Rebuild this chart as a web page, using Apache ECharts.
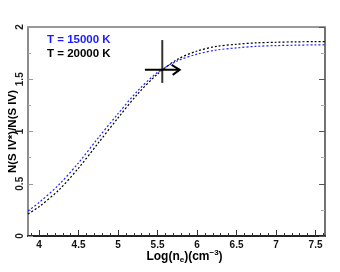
<!DOCTYPE html>
<html>
<head>
<meta charset="utf-8">
<script src="https://cdn.jsdelivr.net/npm/echarts@6/dist/echarts.min.js"></script>
<style>html,body{margin:0;padding:0;background:#fff;}#c{width:340px;height:272px;}</style>
</head>
<body>
<div id="c"></div>
<script>
var logNe = [3.86, 4.0, 4.25, 4.5, 4.75, 5.0, 5.25, 5.5, 5.75, 6.0, 6.25, 6.5, 6.75, 7.0, 7.25, 7.5, 7.62];
var ratioT15000 = [0.24, 0.32, 0.49, 0.70, 0.94, 1.17, 1.39, 1.565, 1.675, 1.74, 1.78, 1.80, 1.815, 1.822, 1.826, 1.829, 1.83];
var ratioT20000 = [0.21, 0.28, 0.44, 0.65, 0.89, 1.13, 1.36, 1.55, 1.69, 1.77, 1.815, 1.835, 1.848, 1.854, 1.858, 1.86, 1.861];
var seriesNames = ['T = 15000 K', 'T = 20000 K'];
// measurement: [x, y, yLow, yHigh, xLow, xHigh(lower-limit arrow tip)]
var measurement = [[5.56, 1.59, 1.465, 1.875, 5.34, 5.78]];
var xMajorTicks = [4, 4.5, 5, 5.5, 6, 6.5, 7, 7.5];
var xMinorTicks = [3.9, 4.0, 4.1, 4.2, 4.3, 4.4, 4.5, 4.6, 4.7, 4.8, 4.9, 5.0, 5.1, 5.2, 5.3, 5.4, 5.5, 5.6, 5.7, 5.8, 5.9, 6.0, 6.1, 6.2, 6.3, 6.4, 6.5, 6.6, 6.7, 6.8, 6.9, 7.0, 7.1, 7.2, 7.3, 7.4, 7.5, 7.6];
var xMin = 3.86, xMax = 7.62;

function pairs(xs, ys) { return xs.map(function (x, i) { return [x, ys[i]]; }); }

var FONT = 'Liberation Sans';
var chart = echarts.init(document.getElementById('c'), null, {renderer: 'canvas'});
chart.setOption({
  animation: false,
  backgroundColor: '#fff',
  grid: {left: 28, right: 15, top: 27, bottom: 36, outerBoundsMode: 'none', containLabel: false},
  legend: {
    orient: 'vertical', left: 37, top: 28, itemGap: 1, icon: 'none', itemWidth: 0, itemHeight: 14,
    selectedMode: false,
    textStyle: {fontFamily: FONT, fontWeight: 'bold', fontSize: 11.5},
    data: [
      {name: seriesNames[0], textStyle: {color: '#1a1aff'}},
      {name: seriesNames[1], textStyle: {color: '#000'}}
    ]
  },
  xAxis: [
    {
      type: 'value', min: xMin, max: xMax, position: 'bottom',
      name: '{n|Log(n}{sub|e}{n|)(cm}{sup|\u22123}{n|)}', nameLocation: 'middle', nameGap: 13, nameMoveOverlap: false,
      nameTextStyle: {
        fontFamily: FONT, fontWeight: 'bold', fontSize: 12, color: '#000', padding: [0, 0, 0, 16],
        rich: {
          n: {fontFamily: FONT, fontWeight: 'bold', fontSize: 12, color: '#000'},
          sub: {fontFamily: FONT, fontWeight: 'bold', fontSize: 8, color: '#000', padding: [6, 0, 0, 0]},
          sup: {fontFamily: FONT, fontWeight: 'bold', fontSize: 8, color: '#000', padding: [0, 0, 7, 0]}
        }
      },
      axisLine: {show: true, lineStyle: {color: '#222', width: 2}},
      axisTick: {show: true, inside: true, length: 6, customValues: xMajorTicks, lineStyle: {color: '#333', width: 1}},
      axisLabel: {show: true, customValues: xMajorTicks, margin: 4, fontFamily: FONT, fontWeight: 'bold', fontSize: 10, color: '#111'},
      splitLine: {show: false}
    },
    {
      type: 'value', min: xMin, max: xMax, position: 'bottom', offset: 0,
      axisLine: {show: false},
      axisTick: {show: true, inside: true, length: 3, customValues: xMinorTicks, lineStyle: {color: '#333', width: 1}},
      axisLabel: {show: false},
      splitLine: {show: false}
    },
    {
      type: 'value', min: xMin, max: xMax, position: 'top',
      axisLine: {show: true, lineStyle: {color: '#999', width: 2}},
      axisTick: {show: false}, axisLabel: {show: false}, splitLine: {show: false}
    }
  ],
  yAxis: [
    {
      type: 'value', min: 0, max: 2, interval: 0.5, position: 'left',
      name: 'N(S IV*)/N(S IV)', nameLocation: 'middle', nameGap: 9, nameRotate: 90, nameMoveOverlap: false,
      nameTextStyle: {fontFamily: FONT, fontWeight: 'bold', fontSize: 11.5, color: '#000'},
      axisLine: {show: true, lineStyle: {color: '#8c8c8c', width: 2}},
      axisTick: {show: true, inside: true, length: 5, lineStyle: {color: '#999', width: 1}},
      minorTick: {show: true, splitNumber: 2, length: 3, lineStyle: {color: '#aaa', width: 1}},
      axisLabel: {show: true, rotate: 90, margin: 3, fontFamily: FONT, fontWeight: 'bold', fontSize: 10, color: '#222',
        formatter: function (v) { return String(v); }},
      splitLine: {show: false}
    },
    {
      type: 'value', min: 0, max: 2, interval: 0.5, position: 'right',
      axisLine: {show: true, lineStyle: {color: '#444', width: 1.5}},
      axisTick: {show: true, inside: true, length: 6, lineStyle: {color: '#555', width: 1}},
      minorTick: {show: true, splitNumber: 2, length: 4, lineStyle: {color: '#aaa', width: 1}},
      axisLabel: {show: false}, splitLine: {show: false}
    }
  ],
  series: [
    {
      name: seriesNames[0], type: 'line', xAxisIndex: 0, yAxisIndex: 0,
      data: pairs(logNe, ratioT15000), smooth: 0.3, showSymbol: false, symbol: 'none',
      lineStyle: {color: '#2222ff', width: 1.2, type: [2, 2]}, itemStyle: {color: '#1a1aff'}
    },
    {
      name: seriesNames[1], type: 'line', xAxisIndex: 0, yAxisIndex: 0,
      data: pairs(logNe, ratioT20000), smooth: 0.3, showSymbol: false, symbol: 'none',
      lineStyle: {color: '#000', width: 1.2, type: [2, 2]}, itemStyle: {color: '#000'}
    },
    {
      type: 'custom', xAxisIndex: 0, yAxisIndex: 0, silent: true, z: 5,
      data: measurement,
      renderItem: function (params, api) {
        var x = api.value(0), y = api.value(1);
        var top = api.coord([x, api.value(3)]), bot = api.coord([x, api.value(2)]);
        var left = api.coord([api.value(4), y]), tip = api.coord([api.value(5), y]);
        return {
          type: 'group',
          children: [
            {type: 'line', shape: {x1: top[0], y1: top[1], x2: bot[0], y2: bot[1]}, style: {stroke: '#333', lineWidth: 2}},
            {type: 'line', shape: {x1: left[0], y1: left[1], x2: tip[0], y2: tip[1]}, style: {stroke: '#000', lineWidth: 2}},
            {type: 'polyline', shape: {points: [[tip[0] - 8, tip[1] - 5], tip, [tip[0] - 7, tip[1] + 5]]}, style: {stroke: '#000', lineWidth: 2, fill: null}}
          ]
        };
      }
    }
  ]
});
</script>
</body>
</html>
